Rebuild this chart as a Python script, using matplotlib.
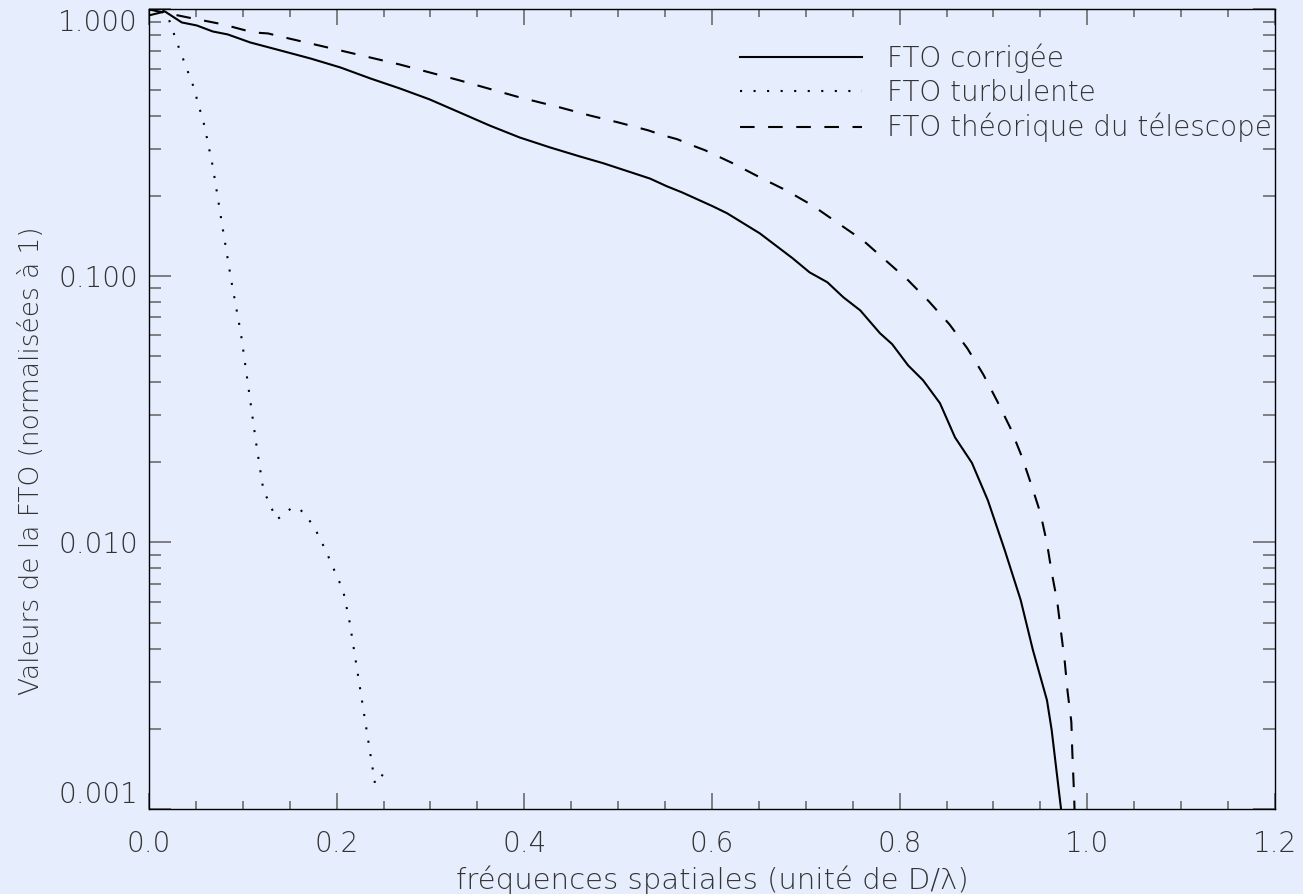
import matplotlib
matplotlib.use("Agg")
import matplotlib.pyplot as plt
from matplotlib.ticker import MultipleLocator, LogLocator, NullFormatter

# FTO corrigée (solid)
freq_corr = [0.000, 0.017, 0.035, 0.051, 0.068, 0.084, 0.108, 0.140, 0.172, 0.204,
             0.236, 0.267, 0.299, 0.331, 0.363, 0.395, 0.427, 0.459, 0.484, 0.534,
             0.552, 0.568, 0.601, 0.616, 0.651, 0.686, 0.704, 0.723, 0.740, 0.758,
             0.779, 0.792, 0.809, 0.825, 0.843, 0.859, 0.877, 0.894, 0.912, 0.929,
             0.942, 0.957, 0.962, 0.972, 0.976]
fto_corr = [0.950, 0.983, 0.894, 0.871, 0.827, 0.806, 0.752, 0.702, 0.655, 0.606,
            0.551, 0.506, 0.460, 0.411, 0.367, 0.331, 0.304, 0.281, 0.265, 0.232,
            0.217, 0.206, 0.1825, 0.172, 0.1445, 0.1165, 0.1032, 0.0947, 0.0832, 0.0743,
            0.0610, 0.0555, 0.0462, 0.0406, 0.0333, 0.0248, 0.0199, 0.0144, 0.00936, 0.00608,
            0.00395, 0.00256, 0.00198, 0.00100, 0.00073]

# FTO turbulente (dotted)
freq_turb = [0.000, 0.018, 0.031, 0.047, 0.059, 0.068, 0.079, 0.088, 0.098, 0.108,
             0.115, 0.122, 0.127, 0.136, 0.144, 0.151, 0.159, 0.168, 0.179, 0.188,
             0.198, 0.207, 0.214, 0.241, 0.256]
fto_turb = [1.000, 0.990, 0.733, 0.519, 0.368, 0.258, 0.148, 0.095, 0.0609, 0.0340,
            0.0226, 0.0157, 0.0144, 0.0122, 0.0127, 0.0134, 0.0135, 0.0126, 0.0109, 0.0094,
            0.0078, 0.0066, 0.0050, 0.00124, 0.00144]

# FTO théorique du télescope (dashed)
freq_tel = [0.000, 0.031, 0.047, 0.063, 0.079, 0.095, 0.111, 0.127, 0.140, 0.204,
            0.267, 0.331, 0.395, 0.438, 0.470, 0.500, 0.532, 0.548, 0.563, 0.579,
            0.593, 0.622, 0.651, 0.679, 0.707, 0.733, 0.761, 0.785, 0.809, 0.831,
            0.853, 0.872, 0.889, 0.904, 0.918, 0.930, 0.940, 0.950, 0.957, 0.962,
            0.968, 0.972, 0.976, 0.979, 0.983, 0.984, 0.986, 0.987]
fto_tel = [1.000, 0.950, 0.925, 0.902, 0.879, 0.849, 0.820, 0.813, 0.792, 0.702,
           0.622, 0.542, 0.468, 0.429, 0.400, 0.377, 0.352, 0.337, 0.326, 0.309,
           0.296, 0.265, 0.2345, 0.2096, 0.184, 0.159, 0.136, 0.1145, 0.0964, 0.0804,
           0.0659, 0.0536, 0.0428, 0.0339, 0.0269, 0.0211, 0.0166, 0.0129, 0.00995, 0.00774,
           0.00598, 0.00461, 0.00356, 0.00275, 0.00212, 0.00164, 0.00111, 0.00084]

xticks = [0.0, 0.2, 0.4, 0.6, 0.8, 1.0, 1.2]
yticks = [0.001, 0.01, 0.1, 1.0]
ytick_labels = ["0.001", "0.010", "0.100", "1.000"]

bg = "#E6EEFE"
txt = "#333333"
plt.rcParams["font.family"] = ["DejaVu Sans"]
plt.rcParams["font.weight"] = 200
plt.rcParams["axes.labelweight"] = 200

fig = plt.figure(figsize=(13.03, 8.94), dpi=100, facecolor=bg)
ax = fig.add_axes([0.1143, 0.0951, 0.8642, 0.8943])
ax.set_facecolor(bg)

ax.plot(freq_corr, fto_corr, color="black", lw=1.5, label="FTO corrigée")
ax.plot(freq_turb, fto_turb, color="black", lw=1.5, linestyle=(0, (1, 5.5)),
        label="FTO turbulente")
ax.plot(freq_tel, fto_tel, color="black", lw=1.5, linestyle=(0, (7, 6.5)),
        label="FTO théorique du télescope")

ax.set_yscale("log")
ax.set_xlim(0, 1.2)
ax.set_ylim(0.001, 1.0)

ax.set_xticks(xticks)
ax.set_xticklabels(["%.1f" % v for v in xticks])
ax.xaxis.set_minor_locator(MultipleLocator(0.05))
ax.set_yticks(yticks)
ax.set_yticklabels(ytick_labels)
ax.yaxis.set_minor_locator(LogLocator(base=10, subs=range(2, 10)))
ax.yaxis.set_minor_formatter(NullFormatter())

ax.tick_params(axis="both", which="both", direction="in", top=True, right=True,
               colors="#606060", labelcolor=txt, width=1.1)
ax.tick_params(axis="x", which="major", length=11.5, pad=15, labelsize=20)
ax.tick_params(axis="x", which="minor", length=5.8)
ax.tick_params(axis="y", which="major", length=16, pad=8, labelsize=20)
ax.tick_params(axis="y", which="minor", length=8.6)

# IDL-style: keep the end labels inside the axis span
yt = ax.yaxis.get_major_ticks()
yt[0].label1.set_va("bottom")
yt[-1].label1.set_va("top")

for s in ax.spines.values():
    s.set_color("black")
    s.set_linewidth(1.0)

ax.set_xlabel("fréquences spatiales (unité de D/λ)", fontsize=21, color=txt)
ax.set_ylabel("Valeurs de la FTO (normalisées à 1)", fontsize=19, color=txt)
ax.xaxis.set_label_coords(0.5, -0.071)
ax.yaxis.set_label_coords(-0.093, 0.436)

leg = ax.legend(loc="upper right", bbox_to_anchor=(0.997, 0.958), frameon=False,
                fontsize=20, handlelength=4.4, handletextpad=0.9, labelspacing=0.22,
                borderpad=0, borderaxespad=0)
for t in leg.get_texts():
    t.set_color(txt)

fig.savefig("out.png", dpi=100, facecolor=bg)
